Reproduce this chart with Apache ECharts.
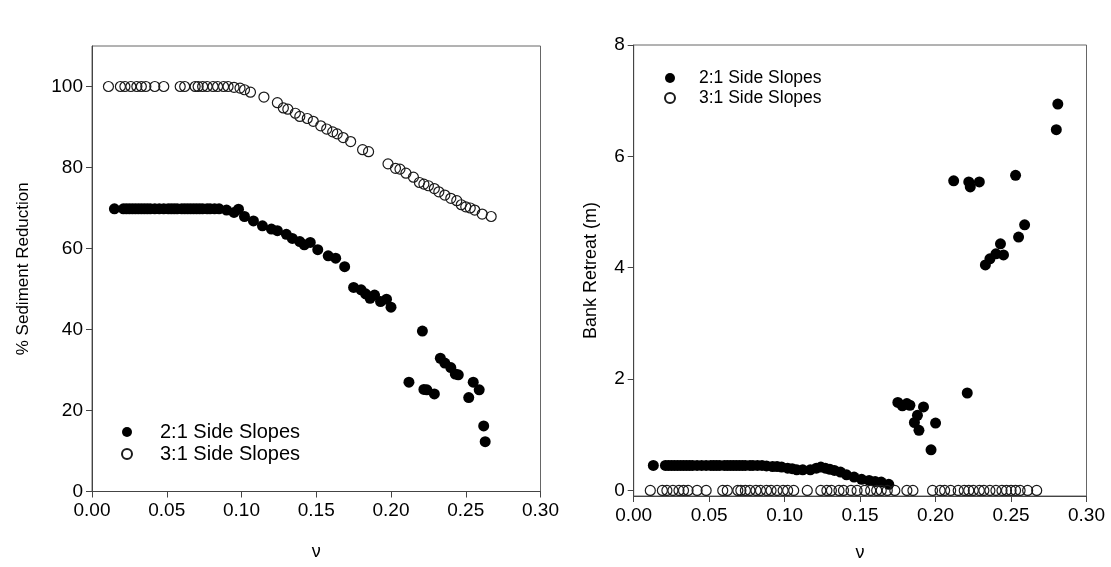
<!DOCTYPE html>
<html>
<head>
<meta charset="utf-8">
<script src="https://cdn.jsdelivr.net/npm/echarts@6/dist/echarts.min.js"></script>
<style>
  html, body { margin: 0; padding: 0; background: #fff; }
  #chart { width: 1111px; height: 567px; }
</style>
</head>
<body>
<div id="chart"></div>
<script>
// Tick positions shared by both panels
const nuTicks = [0, 0.05, 0.10, 0.15, 0.20, 0.25, 0.30];
const sedTicks = [0, 20, 40, 60, 80, 100];
const bankTicks = [0, 2, 4, 6, 8];

// 2:1 side slopes, % sediment reduction vs. nu
const nuSed21 = [0.015, 0.021, 0.023, 0.025, 0.027, 0.029, 0.031, 0.033, 0.035, 0.037,
  0.039, 0.042, 0.045, 0.048, 0.051, 0.053, 0.055, 0.057, 0.060, 0.062,
  0.064, 0.066, 0.068, 0.070, 0.072, 0.074, 0.077, 0.079, 0.082, 0.085,
  0.090, 0.095, 0.098, 0.102, 0.108, 0.114, 0.120, 0.124, 0.130, 0.134,
  0.139, 0.142, 0.146, 0.151, 0.158, 0.163, 0.169, 0.175, 0.180, 0.183,
  0.186, 0.189, 0.193, 0.197, 0.200, 0.212, 0.221, 0.222, 0.224, 0.229,
  0.233, 0.236, 0.240, 0.243, 0.245, 0.252, 0.255, 0.259, 0.262, 0.263];
const sed21 = [69.8, 69.8, 69.8, 69.8, 69.8, 69.8, 69.8, 69.8, 69.8, 69.8,
  69.8, 69.8, 69.8, 69.8, 69.8, 69.8, 69.8, 69.8, 69.8, 69.8,
  69.8, 69.8, 69.8, 69.8, 69.8, 69.8, 69.8, 69.8, 69.8, 69.8,
  69.5, 68.9, 69.7, 67.9, 66.8, 65.6, 64.8, 64.4, 63.5, 62.5,
  61.7, 60.9, 61.5, 59.7, 58.2, 57.6, 55.5, 50.4, 49.8, 48.8,
  47.7, 48.5, 46.9, 47.5, 45.5, 27.0, 39.6, 25.2, 25.1, 24.1,
  32.9, 31.7, 30.6, 29.0, 28.8, 23.2, 27.0, 25.1, 16.2, 12.3];

// 2:1 side slopes, bank retreat (m) vs. nu
const nuBank21 = [0.013, 0.021, 0.023, 0.025, 0.027, 0.029, 0.031, 0.033, 0.035, 0.037,
  0.039, 0.042, 0.045, 0.048, 0.051, 0.053, 0.055, 0.057, 0.060, 0.062,
  0.064, 0.066, 0.068, 0.070, 0.072, 0.074, 0.077, 0.079, 0.082, 0.085,
  0.088, 0.092, 0.095, 0.098, 0.102, 0.105, 0.108, 0.112, 0.117, 0.121,
  0.124, 0.127, 0.130, 0.133, 0.137, 0.141, 0.146, 0.151, 0.156, 0.160,
  0.164, 0.169, 0.175, 0.178, 0.181, 0.183, 0.186, 0.188, 0.189, 0.192,
  0.197, 0.200, 0.212, 0.221, 0.222, 0.223, 0.229, 0.233, 0.236, 0.240,
  0.243, 0.245, 0.253, 0.255, 0.259, 0.280, 0.281];
const bank21 = [0.45, 0.45, 0.45, 0.45, 0.45, 0.45, 0.45, 0.45, 0.45, 0.45,
  0.45, 0.45, 0.45, 0.45, 0.45, 0.45, 0.45, 0.45, 0.45, 0.45,
  0.45, 0.45, 0.45, 0.45, 0.45, 0.45, 0.45, 0.45, 0.45, 0.45,
  0.44, 0.43, 0.43, 0.42, 0.40, 0.39, 0.37, 0.37, 0.37, 0.40,
  0.42, 0.40, 0.38, 0.36, 0.33, 0.28, 0.24, 0.20, 0.18, 0.16,
  0.15, 0.11, 1.58, 1.52, 1.56, 1.53, 1.22, 1.35, 1.08, 1.50,
  0.73, 1.21, 5.56, 1.75, 5.54, 5.45, 5.54, 4.05, 4.16, 4.25,
  4.43, 4.23, 5.66, 4.55, 4.77, 6.48, 6.94];

// 3:1 side slopes, shared nu values for both panels
const nu31 = [0.011, 0.019, 0.022, 0.026, 0.030, 0.033, 0.036, 0.042, 0.048, 0.059,
  0.062, 0.069, 0.071, 0.074, 0.077, 0.081, 0.084, 0.088, 0.091, 0.095,
  0.099, 0.102, 0.106, 0.115, 0.124, 0.128, 0.131, 0.136, 0.139, 0.144,
  0.148, 0.153, 0.157, 0.161, 0.164, 0.168, 0.173, 0.181, 0.185, 0.198,
  0.203, 0.206, 0.210, 0.215, 0.219, 0.222, 0.225, 0.229, 0.232, 0.236,
  0.240, 0.244, 0.247, 0.250, 0.253, 0.256, 0.261, 0.267];
const sed31 = [100, 100, 100, 100, 100, 100, 100, 100, 100, 100,
  100, 100, 100, 100, 100, 100, 100, 100, 100, 99.8,
  99.6, 99.2, 98.6, 97.4, 96.0, 94.7, 94.4, 93.4, 92.6, 92.1,
  91.4, 90.3, 89.5, 88.8, 88.3, 87.4, 86.4, 84.4, 83.9, 80.9,
  79.8, 79.6, 78.6, 77.6, 76.3, 75.9, 75.5, 74.8, 74.0, 73.2,
  72.4, 71.8, 70.8, 70.3, 70.0, 69.5, 68.5, 67.9];
const bank31 = [0, 0, 0, 0, 0, 0, 0, 0, 0, 0,
  0, 0, 0, 0, 0, 0, 0, 0, 0, 0,
  0, 0, 0, 0, 0, 0, 0, 0, 0, 0,
  0, 0, 0, 0, 0, 0, 0, 0, 0, 0,
  0, 0, 0, 0, 0, 0, 0, 0, 0, 0,
  0, 0, 0, 0, 0, 0, 0, 0];

const NAME21 = '2:1 Side Slopes';
const NAME31 = '3:1 Side Slopes';
const FONT = '"Liberation Sans", Arial, sans-serif';

function pairs(xs, ys) {
  return xs.map((x, i) => [x, ys[i]]);
}

const axisLineStyle = { color: '#444', width: 1 };

function nuAxis(gridIndex, gap) {
  return {
    type: 'value', gridIndex, min: 0, max: 0.3,
    name: 'ν', nameLocation: 'middle', nameGap: gap,
    nameTextStyle: { fontFamily: FONT, fontSize: 18, color: '#000' },
    axisLine: { show: true, onZero: false, lineStyle: axisLineStyle },
    axisTick: { show: true, inside: false, length: 6, customValues: nuTicks, lineStyle: axisLineStyle },
    axisLabel: {
      customValues: nuTicks, margin: 10,
      fontFamily: FONT, fontSize: 19, color: '#000',
      formatter: v => v.toFixed(2)
    },
    splitLine: { show: false }
  };
}

const filledStyle = { color: '#000', borderColor: '#000', borderWidth: 0, opacity: 1 };
const openStyle = { color: 'rgba(0,0,0,0)', borderColor: '#1a1a1a', borderWidth: 1.2, opacity: 1 };

const option = {
  animation: false,
  backgroundColor: '#fff',
  grid: [
    { left: 92, top: 46, width: 448.5, height: 445.5, show: true, borderColor: '#666', borderWidth: 1, backgroundColor: 'transparent' },
    { left: 633.7, top: 45, width: 452.8, height: 452.3, show: true, borderColor: '#666', borderWidth: 1, backgroundColor: 'transparent' }
  ],
  legend: [
    {
      orient: 'vertical', left: 116, top: 417,
      itemWidth: 56, itemHeight: 10, itemGap: 2,
      data: [NAME21, NAME31],
      textStyle: { fontFamily: FONT, fontSize: 20, color: '#000', lineHeight: 20 },
      selectedMode: false
    },
    {
      orient: 'vertical', left: 659, top: 64,
      itemWidth: 48, itemHeight: 10, itemGap: 2,
      data: [NAME21, NAME31],
      textStyle: { fontFamily: FONT, fontSize: 17.5, color: '#000', lineHeight: 18 },
      selectedMode: false
    }
  ],
  xAxis: [nuAxis(0, 52), nuAxis(1, 48)],
  yAxis: [
    {
      type: 'value', gridIndex: 0, min: 0, max: 110,
      name: '% Sediment Reduction', nameLocation: 'middle', nameGap: 60,
      nameTextStyle: { fontFamily: FONT, fontSize: 17, color: '#000' },
      axisLine: { show: true, lineStyle: axisLineStyle },
      axisTick: { show: true, length: 6, customValues: sedTicks, lineStyle: axisLineStyle },
      axisLabel: { customValues: sedTicks, margin: 9, fontFamily: FONT, fontSize: 19, color: '#000' },
      splitLine: { show: false }
    },
    {
      type: 'value', gridIndex: 1, min: -0.1, max: 8,
      name: 'Bank Retreat (m)', nameLocation: 'middle', nameGap: 34,
      nameTextStyle: { fontFamily: FONT, fontSize: 18, color: '#000' },
      axisLine: { show: true, onZero: false, lineStyle: axisLineStyle },
      axisTick: { show: true, length: 6, customValues: bankTicks, lineStyle: axisLineStyle },
      axisLabel: { customValues: bankTicks, margin: 9, fontFamily: FONT, fontSize: 19, color: '#000' },
      splitLine: { show: false }
    }
  ],
  series: [
    { name: NAME21, type: 'scatter', xAxisIndex: 0, yAxisIndex: 0, symbol: 'circle', symbolSize: 11, itemStyle: filledStyle, data: pairs(nuSed21, sed21) },
    { name: NAME31, type: 'scatter', xAxisIndex: 0, yAxisIndex: 0, symbol: 'circle', symbolSize: 10, itemStyle: openStyle, data: pairs(nu31, sed31) },
    { name: NAME21, type: 'scatter', xAxisIndex: 1, yAxisIndex: 1, symbol: 'circle', symbolSize: 11, itemStyle: filledStyle, data: pairs(nuBank21, bank21) },
    { name: NAME31, type: 'scatter', xAxisIndex: 1, yAxisIndex: 1, symbol: 'circle', symbolSize: 10, itemStyle: openStyle, data: pairs(nu31, bank31) }
  ]
};

const chart = echarts.init(document.getElementById('chart'), null, { renderer: 'canvas' });
chart.setOption(option);
</script>
</body>
</html>
